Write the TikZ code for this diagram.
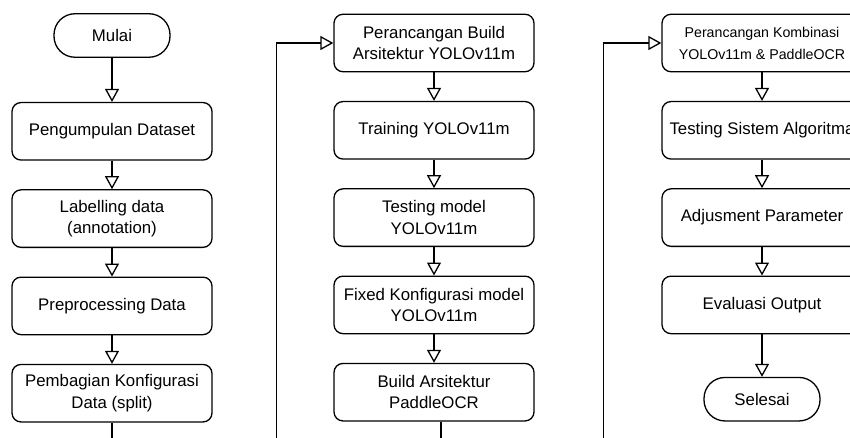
\documentclass[tikz,border=0pt]{standalone}
\usepackage{fontspec}
\setmainfont{Liberation Sans}
\usetikzlibrary{positioning,arrows.meta}

\begin{document}
\begin{tikzpicture}[x=1pt, y=-1pt,
    every node/.style={font=\fontsize{16.8}{21.5}\selectfont},
    proc/.style={draw, line width=1.3pt, rounded corners=9pt, align=center,
        minimum width=200pt, minimum height=57.5pt, inner sep=2pt},
    term/.style={draw, line width=1.3pt, rounded corners=21pt,
        minimum width=116pt, minimum height=43.5pt},
    flow/.style={line width=1.3pt, -{Triangle[open, length=13pt, width=14pt]}},
    node distance=28.5pt]
    \useasboundingbox (0,0) rectangle (850,438);
    \clip (0,0) rectangle (850,438);

    % Column 1: data preparation
    \node[term] (mulai) at (112,35.5) {Mulai};
    \node[proc, below=44pt of mulai] (kumpul) {Pengumpulan Dataset};
    \node[proc, below=of kumpul] (label) {Labelling data\\(annotation)};
    \node[proc, below=of label] (prepro) {Preprocessing Data};
    \node[proc, below=of prepro] (split) {Pembagian Konfigurasi\\Data (split)};

    % Column 2: YOLOv11m and PaddleOCR
    \node[proc] (build) at (434,43) {Perancangan Build\\Arsitektur YOLOv11m};
    \node[proc, below=of build] (train) {Training YOLOv11m};
    \node[proc, below=of train] (testm) {Testing model\\YOLOv11m};
    \node[proc, below=of testm] (fixed) {Fixed Konfigurasi model\\YOLOv11m};
    \node[proc, below=of fixed] (ocr) {Build Arsitektur\\PaddleOCR};

    % Column 3: combined system
    \node[proc, font=\fontsize{14.2}{22}\selectfont] (komb) at (762,43) {Perancangan Kombinasi\\YOLOv11m \& PaddleOCR};
    \node[proc, below=of komb] (testsis) {Testing Sistem Algoritma};
    \node[proc, below=of testsis] (adjust) {Adjusment Parameter};
    \node[proc, below=of adjust] (eval) {Evaluasi Output};
    \node[term, below=42.5pt of eval] (selesai) {Selesai};

    % Arrows inside the columns
    \foreach \a/\b in {mulai/kumpul, kumpul/label, label/prepro, prepro/split,
        build/train, train/testm, testm/fixed, fixed/ocr,
        komb/testsis, testsis/adjust, adjust/eval, eval/selesai} {
        \draw[flow] (\a) -- (\b);
    }

    % Arrows between the columns
    \draw[flow] (split.south) -- ++(0,40) -| ([xshift=-57pt]build.west) -- (build.west);
    \draw[flow] ([xshift=7pt]ocr.south) -- ++(0,40) -| ([xshift=-58pt]komb.west) -- (komb.west);
\end{tikzpicture}
\end{document}
